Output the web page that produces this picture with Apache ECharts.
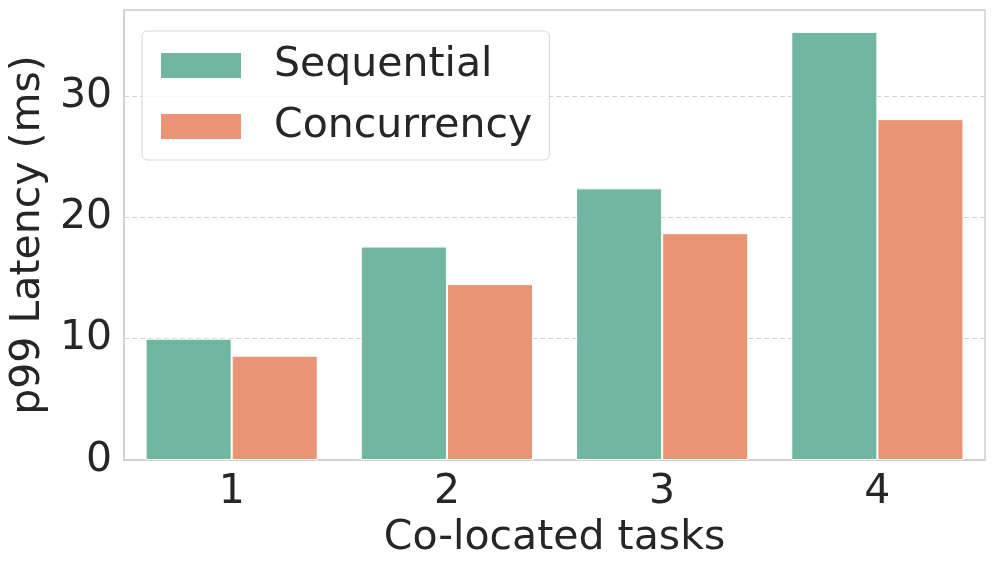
<!DOCTYPE html>
<html>
<head>
<meta charset="utf-8">
<script src="https://cdn.jsdelivr.net/npm/echarts@6/dist/echarts.min.js"></script>
<style>html,body{margin:0;padding:0;background:#fff}#c{width:996px;height:570px}</style>
</head>
<body>
<div id="c"></div>
<script>
const categories = ['1', '2', '3', '4'];
const sequential = [10.0, 17.6, 22.4, 35.3];
const concurrency = [8.6, 14.5, 18.7, 28.1];
const yTicks = [0, 10, 20, 30];
const seriesNames = ['Sequential', 'Concurrency'];

const FONT = 'DejaVu Sans';
const TXT = '#262626';
const chart = echarts.init(document.getElementById('c'), null, {renderer: 'canvas'});
chart.setOption({
  animation: false,
  textStyle: {fontFamily: FONT},
  grid: {left: 121, right: 11, top: 10, bottom: 110, show: true, borderColor: '#cfcfcf', borderWidth: 1.5, backgroundColor: 'transparent'},
  legend: {
    orient: 'vertical', left: 142, top: 31,
    padding: [14, 17, 13, 17],
    itemWidth: 82, itemHeight: 27, itemGap: 20,
    backgroundColor: 'rgba(255,255,255,0.8)',
    borderColor: '#d6d6d6', borderWidth: 1, borderRadius: 5,
    icon: 'rect',
    textStyle: {fontSize: 41, color: TXT, fontFamily: FONT, padding: [0, 0, 0, 27], lineHeight: 41},
    data: seriesNames
  },
  xAxis: {
    type: 'category', data: categories,
    name: 'Co-located tasks', nameLocation: 'middle', nameGap: 58,
    nameTextStyle: {fontSize: 41, color: TXT, fontFamily: FONT},
    axisLine: {show: true, lineStyle: {color: '#cfcfcf', width: 1.5}},
    axisTick: {show: false},
    axisLabel: {fontSize: 41, color: TXT, fontFamily: FONT, margin: 12},
    splitLine: {show: false}
  },
  yAxis: {
    type: 'value', min: 0, max: 37.1, interval: 10,
    name: 'p99 Latency (ms)', nameLocation: 'middle', nameGap: 53,
    nameTextStyle: {fontSize: 41, color: TXT, fontFamily: FONT},
    axisLine: {show: true, lineStyle: {color: '#cfcfcf', width: 1.5}},
    axisTick: {show: false},
    axisLabel: {fontSize: 41, color: TXT, fontFamily: FONT, margin: 12,
      formatter: v => (yTicks.indexOf(v) >= 0 ? String(v) : '')},
    splitLine: {show: true, lineStyle: {color: '#d0d0d0', type: [5, 3], width: 1}}
  },
  series: [
    {name: seriesNames[0], type: 'bar', data: sequential, barGap: '0%', barCategoryGap: '20%',
     itemStyle: {color: '#71b6a1', borderColor: '#ffffff', borderWidth: 1}},
    {name: seriesNames[1], type: 'bar', data: concurrency, barGap: '0%', barCategoryGap: '20%',
     itemStyle: {color: '#e99575', borderColor: '#ffffff', borderWidth: 1}}
  ]
});
</script>
</body>
</html>
